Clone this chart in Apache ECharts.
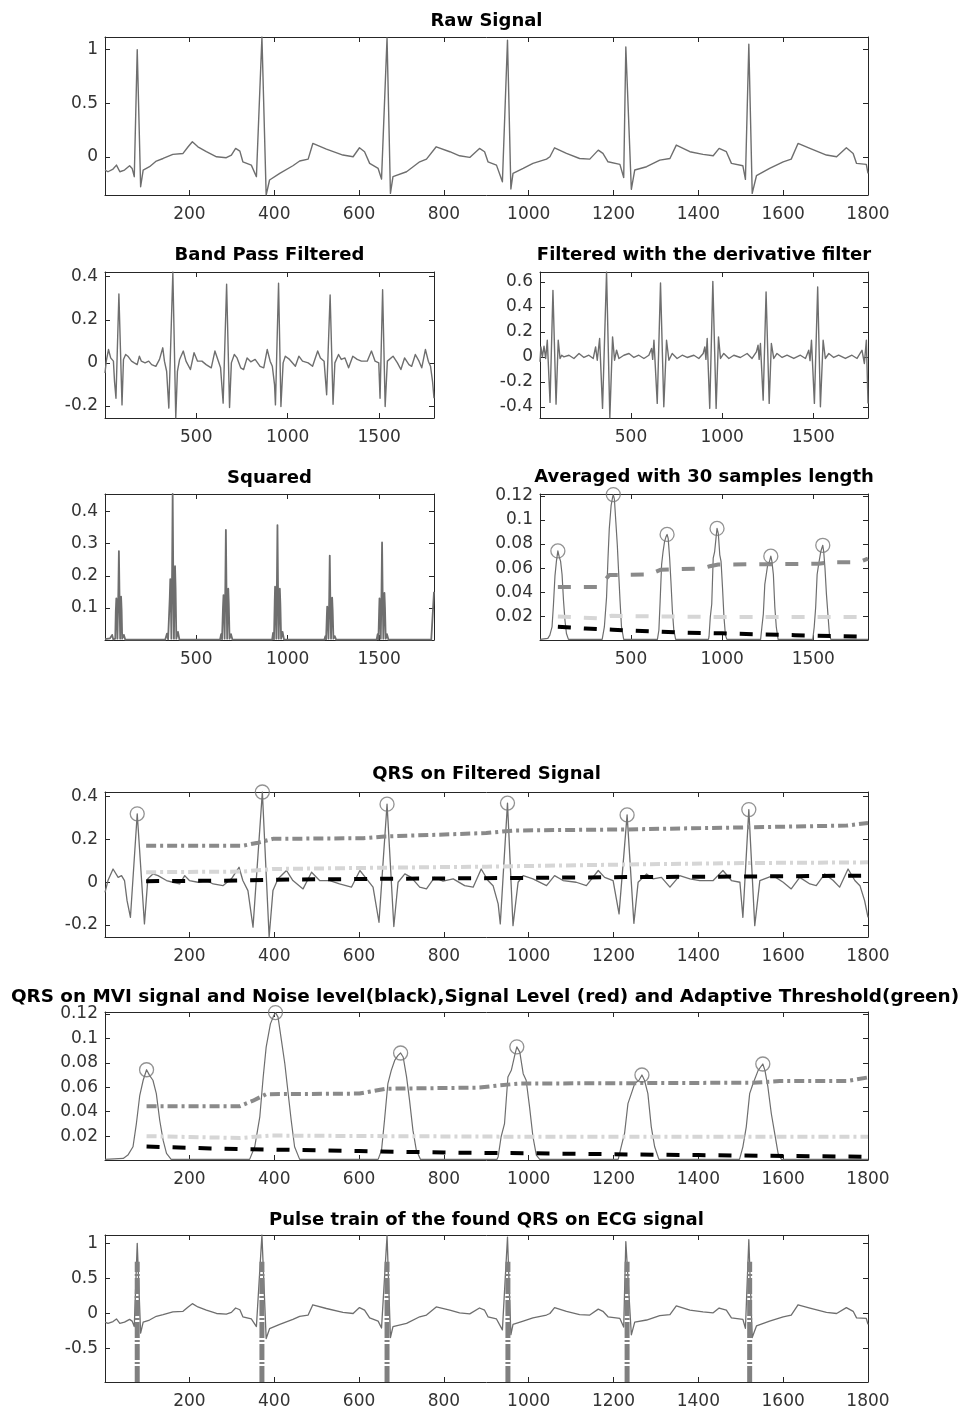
<!DOCTYPE html>
<html><head><meta charset="utf-8">
<script src="https://cdn.jsdelivr.net/npm/echarts@6/dist/echarts.min.js"></script>
<style>html,body{margin:0;padding:0;background:#fff}#c{width:964px;height:1414px}</style>
</head><body><div id="c"></div>
<script>
// ---------------- data ----------------
const tickWide = [200,400,600,800,1000,1200,1400,1600,1800];
const tickNarrow = [500,1000,1500];
const yTicksRaw = [0,0.5,1];
const yTicksBand = [-0.2,0,0.2,0.4];
const yTicksDeriv = [-0.4,-0.2,0,0.2,0.4,0.6];
const yTicksSq = [0.1,0.2,0.3,0.4];
const yTicksMvi = [0.02,0.04,0.06,0.08,0.1,0.12];
const yTicksPulse = [-0.5,0,0.5,1];
const sampleRange = [1,1800];
const rangeRaw = [-0.357,1.118];
const rangeBand = [-0.256,0.422];
const rangeDeriv = [-0.49,0.68];
const rangeSq = [0,0.455];
const rangeMvi = [0.0005,0.1215];
const rangePulse = [-0.976,1.118];

const rawEcg = [[1,-0.124],[8,-0.140],[20,-0.115],[28,-0.078],[36,-0.140],[47,-0.124],[59,-0.084],[65,-0.109],[70,-0.186],[77,1.000],[85,-0.280],[91,-0.124],[106,-0.093],[122,-0.040],[138,-0.016],[161,0.022],[185,0.031],[197,0.093],[207,0.140],[220,0.093],[240,0.047],[264,0.000],[287,-0.009],[299,0.016],[309,0.078],[319,0.053],[326,-0.047],[346,-0.078],[358,-0.186],[371,1.118],[381,-0.357],[389,-0.217],[413,-0.155],[444,-0.084],[460,-0.040],[480,-0.022],[491,0.124],[523,0.071],[562,0.016],[586,0.000],[601,0.084],[613,0.047],[625,-0.062],[645,-0.109],[653,-0.208],[666,1.110],[674,-0.342],[680,-0.186],[712,-0.140],[743,-0.047],[759,-0.022],[782,0.093],[814,0.047],[837,0.009],[861,-0.006],[884,0.078],[896,0.047],[904,-0.047],[924,-0.078],[938,-0.233],[950,1.087],[958,-0.301],[963,-0.155],[987,-0.109],[1010,-0.062],[1042,-0.022],[1050,0.000],[1061,0.084],[1089,0.031],[1120,-0.016],[1144,-0.022],[1164,0.062],[1175,0.031],[1187,-0.047],[1215,-0.071],[1224,-0.193],[1229,1.025],[1242,-0.304],[1250,-0.124],[1278,-0.093],[1309,-0.031],[1333,-0.016],[1348,0.109],[1380,0.047],[1411,0.022],[1435,0.009],[1449,0.078],[1466,0.047],[1478,-0.062],[1505,-0.084],[1511,-0.211],[1519,1.050],[1527,-0.342],[1537,-0.177],[1568,-0.109],[1600,-0.047],[1619,-0.022],[1635,0.124],[1663,0.078],[1702,0.016],[1726,0.000],[1749,0.084],[1765,0.031],[1773,-0.062],[1796,-0.071],[1800,-0.155]];

const bandPass = [[1,-0.047],[8,0.008],[20,0.062],[32,0.023],[40,0.031],[47,0.008],[53,-0.086],[61,-0.164],[77,0.32],[94,-0.195],[102,0.016],[114,0.039],[126,0.031],[146,0.008],[161,0],[177,-0.008],[189,0.031],[200,0.008],[220,0],[240,0.008],[256,-0.008],[279,-0.016],[299,0.016],[317,0.07],[326,0.008],[338,-0.039],[350,-0.21],[372,0.422],[388,-0.256],[397,-0.039],[409,0.016],[429,0.055],[444,0.008],[468,-0.031],[488,0.047],[507,0.008],[531,0.008],[554,-0.008],[582,-0.023],[602,0.055],[621,0.008],[633,-0.023],[647,-0.187],[666,0.365],[682,-0.207],[692,0],[708,0.039],[723,0.023],[743,-0.023],[759,-0.031],[778,0.023],[798,0.005],[822,0.016],[849,-0.016],[869,-0.023],[888,0.062],[904,0.008],[916,-0.016],[928,-0.101],[933,-0.195],[950,0.37],[963,-0.203],[975,0],[987,0.031],[1010,0.016],[1042,-0.016],[1061,0.031],[1081,0.008],[1112,0],[1136,-0.016],[1164,0.055],[1179,0.023],[1199,0.008],[1213,-0.148],[1232,0.315],[1248,-0.192],[1258,0],[1278,0.039],[1293,0.016],[1313,0.023],[1333,-0.023],[1356,0.031],[1380,0.016],[1403,0.008],[1435,0.008],[1458,0.055],[1478,0.008],[1498,0],[1505,-0.164],[1519,0.34],[1533,-0.203],[1545,0.008],[1576,0.031],[1600,0],[1619,-0.031],[1639,0.023],[1663,-0.008],[1678,-0.016],[1698,0.039],[1718,0.008],[1733,-0.023],[1753,0.062],[1769,0.008],[1781,-0.016],[1792,-0.086],[1800,-0.164]];

const derivative = [[1,-0.04],[6,0.08],[14,0],[23,0.085],[32,-0.013],[41,0.133],[56,-0.365],[72,0.533],[89,-0.379],[101,0.133],[111,-0.013],[120,0.013],[132,0],[160,0.013],[187,-0.013],[215,0.027],[242,-0.005],[269,0.013],[293,-0.013],[306,0.08],[315,-0.027],[328,0.147],[344,-0.413],[366,0.68],[384,-0.49],[399,0.16],[410,-0.027],[421,0.053],[434,-0.013],[461,0.013],[489,0.027],[516,-0.005],[543,0.013],[571,-0.013],[598,0.013],[613,0.067],[619,-0.02],[626,0.133],[644,-0.373],[662,0.592],[680,-0.4],[695,0.133],[708,-0.027],[726,0.027],[753,-0.013],[781,0.013],[808,-0.005],[845,0.013],[872,-0.013],[896,0.027],[905,0.08],[911,-0.02],[918,0.147],[932,-0.413],[949,0.605],[967,-0.413],[980,0.16],[991,-0.013],[1009,0.027],[1037,-0.013],[1064,0.013],[1100,-0.005],[1137,0.027],[1164,-0.013],[1188,0.04],[1197,0.093],[1203,-0.02],[1210,0.107],[1225,-0.347],[1241,0.52],[1258,-0.373],[1270,0.107],[1283,-0.013],[1301,0.027],[1329,-0.005],[1356,0.013],[1393,-0.013],[1429,0.013],[1457,-0.013],[1475,0.053],[1482,-0.03],[1490,0.133],[1506,-0.373],[1524,0.56],[1539,-0.4],[1554,0.133],[1566,-0.013],[1585,0.027],[1612,-0.005],[1639,0.013],[1676,-0.013],[1712,0.013],[1740,-0.013],[1767,0.053],[1780,-0.053],[1791,0.133],[1800,-0.373]];

const squared = [[1,0.003],[28,0.005],[40,0.016],[46,0.002],[57,0.004],[60,0.09],[63,0.130],[66,0.09],[69,0.004],[74,0.15],[77,0.277],[80,0.15],[84,0.004],[86,0.09],[89,0.135],[92,0.09],[95,0.004],[104,0.016],[112,0.001],[330,0.001],[340,0.02],[346,0.002],[352,0.004],[355,0.13],[358,0.19],[361,0.13],[364,0.004],[368,0.22],[371,0.455],[374,0.22],[378,0.004],[381,0.16],[384,0.23],[387,0.16],[391,0.004],[400,0.025],[408,0.001],[630,0.001],[636,0.018],[641,0.002],[644,0.004],[646,0.1],[649,0.14],[652,0.1],[655,0.004],[659,0.17],[662,0.343],[665,0.17],[669,0.004],[672,0.11],[675,0.16],[678,0.11],[682,0.004],[690,0.018],[698,0.001],[915,0.001],[920,0.022],[925,0.002],[927,0.004],[929,0.12],[931,0.166],[934,0.12],[938,0.004],[941,0.17],[944,0.358],[947,0.17],[951,0.004],[954,0.11],[957,0.16],[960,0.11],[964,0.004],[972,0.025],[980,0.001],[1200,0.001],[1206,0.012],[1210,0.002],[1212,0.004],[1214,0.075],[1216,0.104],[1219,0.075],[1223,0.004],[1227,0.13],[1230,0.263],[1233,0.13],[1237,0.004],[1240,0.09],[1243,0.132],[1246,0.09],[1250,0.004],[1257,0.012],[1265,0.001],[1486,0.001],[1492,0.018],[1496,0.002],[1498,0.004],[1500,0.09],[1502,0.13],[1505,0.09],[1509,0.004],[1513,0.15],[1516,0.304],[1519,0.15],[1523,0.004],[1526,0.1],[1529,0.147],[1532,0.1],[1536,0.004],[1543,0.018],[1551,0.001],[1785,0.001],[1792,0.005],[1800,0.15]];

const mvi = [[1,0.001],[44,0.0018],[55,0.0045],[67,0.0113],[75,0.0303],[83,0.0534],[91,0.0657],[99,0.0743],[106,0.0697],[114,0.0657],[122,0.0548],[130,0.033],[138,0.0167],[146,0.0059],[157,0.001],[342,0.001],[354,0.0113],[366,0.0358],[374,0.0684],[381,0.0928],[391,0.1118],[399,0.1186],[403,0.121],[409,0.1173],[417,0.0983],[425,0.0792],[432,0.0575],[440,0.033],[448,0.0113],[460,0.001],[645,0.001],[653,0.0086],[660,0.033],[668,0.063],[676,0.0738],[684,0.0819],[692,0.086],[698,0.088],[704,0.0847],[712,0.0684],[719,0.0494],[727,0.0249],[735,0.0086],[745,0.001],[925,0.001],[928,0.0032],[935,0.0195],[943,0.0303],[951,0.0684],[959,0.0738],[967,0.086],[972,0.093],[979,0.0887],[987,0.0711],[994,0.0657],[1002,0.0439],[1010,0.0195],[1018,0.0045],[1026,0.001],[1211,0.001],[1218,0.0113],[1226,0.0222],[1234,0.0466],[1242,0.0548],[1250,0.063],[1260,0.0657],[1267,0.070],[1273,0.0657],[1281,0.0548],[1289,0.0276],[1297,0.0113],[1307,0.001],[1497,0.001],[1505,0.0113],[1513,0.0276],[1521,0.0548],[1529,0.063],[1541,0.0738],[1552,0.079],[1557,0.0738],[1564,0.0602],[1572,0.0385],[1580,0.0222],[1588,0.0059],[1596,0.001],[1800,0.001]];

const qrsMvi = [[99,0.0743],[403,0.121],[698,0.088],[972,0.093],[1267,0.070],[1552,0.079]];
const qrsFiltered = [[77,0.32],[372,0.422],[666,0.365],[950,0.37],[1232,0.315],[1519,0.34]];
const pulseIdx = [77,371,666,951,1232,1521];
const pulseSpan = [-0.976,0.738];

const signalLevelMvi = [[99,0.0444],[318,0.0444],[350,0.049],[381,0.0543],[601,0.0548],[635,0.057],[664,0.0588],[884,0.0597],[932,0.0616],[979,0.063],[1529,0.0637],[1592,0.065],[1749,0.065],[1800,0.068]];
const thresholdMvi = [[99,0.0200],[320,0.0185],[390,0.0205],[660,0.0200],[1000,0.0195],[1800,0.0195]];
const noiseMvi = [[99,0.0115],[250,0.0100],[400,0.0090],[600,0.0078],[800,0.0066],[1000,0.0060],[1200,0.0052],[1400,0.0045],[1600,0.0038],[1800,0.0032]];
const signalLevelFilt = [[98,0.171],[326,0.171],[362,0.185],[397,0.203],[610,0.206],[660,0.214],[900,0.23],[965,0.242],[1230,0.247],[1520,0.257],[1750,0.265],[1800,0.277]];
const thresholdFilt = [[98,0.047],[326,0.05],[397,0.062],[660,0.068],[900,0.073],[1230,0.083],[1520,0.09],[1800,0.093]];
const noiseFilt = [[98,0.005],[326,0.008],[397,0.012],[660,0.016],[960,0.02],[1230,0.024],[1520,0.027],[1800,0.031]];

const titles = ['Raw Signal','Band Pass Filtered','Filtered with the derivative filter','Squared','Averaged with 30 samples length','QRS on Filtered Signal','QRS on MVI signal and Noise level(black),Signal Level (red) and Adaptive Threshold(green)','Pulse train of the found QRS on ECG signal'];

// ---------------- styling / layout ----------------
const AX = '#262626', LB = '#333333';
const SIG = '#6e6e6e', SLV = '#8a8a8a', THR = '#d6d6d6', NOI = '#000000', CIR = '#777777';
const FONT = 'DejaVu Sans';
const DASH = [13, 13], DASHDOT = [10, 4, 3, 4];

const panels = [
  {g:[105,37,763,158],  xt:tickWide,   yr:rangeRaw,   yt:yTicksRaw,   tc:[486.5,21],  fs:18},
  {g:[105,272,329,146], xt:tickNarrow, yr:rangeBand,  yt:yTicksBand,  tc:[269.5,255.5], fs:18},
  {g:[540,272,328,146], xt:tickNarrow, yr:rangeDeriv, yt:yTicksDeriv, tc:[704,255],   fs:18},
  {g:[105,494,329,146], xt:tickNarrow, yr:rangeSq,    yt:yTicksSq,    tc:[269.5,478], fs:18},
  {g:[540,494,328,146], xt:tickNarrow, yr:rangeMvi,   yt:yTicksMvi,   tc:[704,477],   fs:18},
  {g:[105,792,763,145], xt:tickWide,   yr:rangeBand,  yt:yTicksBand,  tc:[486.5,774], fs:18},
  {g:[105,1012,763,148],xt:tickWide,   yr:rangeMvi,   yt:yTicksMvi,   tc:[485,997],   fs:18.4},
  {g:[105,1235,763,147],xt:tickWide,   yr:rangePulse, yt:yTicksPulse, tc:[486.5,1220],fs:18}
];

const fmt = v => String(+(+v).toFixed(4));
const grid = [], xAxis = [], yAxis = [], graphic = [], series = [];

panels.forEach((p, i) => {
  grid.push({left:p.g[0], top:p.g[1], width:p.g[2], height:p.g[3], containLabel:false});
  const line = {show:true, onZero:false, lineStyle:{color:AX, width:1}};
  const lab = {color:LB, fontFamily:FONT, fontSize:17, formatter:fmt};
  ['bottom','top'].forEach((pos, k) => xAxis.push({
    type:'value', gridIndex:i, position:pos, min:sampleRange[0], max:sampleRange[1],
    axisLine:line, splitLine:{show:false},
    axisTick:{show:true, inside:true, length:5, customValues:p.xt, lineStyle:{color:AX}},
    axisLabel:Object.assign({show:k===0, margin:11, customValues:p.xt}, lab)
  }));
  ['left','right'].forEach((pos, k) => yAxis.push({
    type:'value', gridIndex:i, position:pos, min:p.yr[0], max:p.yr[1],
    axisLine:line, splitLine:{show:false},
    axisTick:{show:true, inside:true, length:5, customValues:p.yt, lineStyle:{color:AX}},
    axisLabel:Object.assign({show:k===0, margin:7, customValues:p.yt}, lab)
  }));
  graphic.push({type:'text', x:p.tc[0], y:p.tc[1], z:100,
    style:{text:titles[i], fill:'#000', font:'bold ' + p.fs + 'px "DejaVu Sans"', align:'center', verticalAlign:'middle', textAlign:'center', textVerticalAlign:'middle'}});
});

function curve(i, data, color, width, type, z) {
  series.push({type:'line', xAxisIndex:2*i, yAxisIndex:2*i, data:data, showSymbol:false, symbol:'none',
    animation:false, silent:true, z:z||2, clip:true,
    lineStyle:{color:color, width:width, type:type||'solid', cap:'butt', join:'round'}});
}
function circles(i, data) {
  series.push({type:'scatter', xAxisIndex:2*i, yAxisIndex:2*i, data:data, symbol:'circle', symbolSize:14,
    animation:false, silent:true, clip:false, z:5,
    itemStyle:{color:'rgba(0,0,0,0)', borderColor:CIR, borderWidth:1.3}});
}

curve(0, rawEcg, SIG, 1.4);
curve(1, bandPass, SIG, 1.4);
curve(2, derivative, SIG, 1.4);
curve(3, squared, SIG, 1.8);
curve(4, mvi, SIG, 1.2);
circles(4, qrsMvi);
curve(4, noiseMvi, NOI, 4, DASH, 4);
curve(4, signalLevelMvi, SLV, 4, DASH, 4);
curve(4, thresholdMvi, THR, 4, DASH, 4);
curve(5, bandPass, SIG, 1.3);
circles(5, qrsFiltered);
curve(5, noiseFilt, NOI, 4, DASH, 4);
curve(5, signalLevelFilt, SLV, 4, DASHDOT, 4);
curve(5, thresholdFilt, THR, 4, DASHDOT, 4);
curve(6, mvi, SIG, 1.2);
circles(6, qrsMvi);
curve(6, noiseMvi, NOI, 4, DASH, 4);
curve(6, signalLevelMvi, SLV, 4, DASHDOT, 4);
curve(6, thresholdMvi, THR, 4, DASHDOT, 4);
curve(7, rawEcg, SIG, 1.3);
pulseIdx.forEach(t => curve(7, [[t, pulseSpan[0]], [t, pulseSpan[1]]], '#808080', 5, [16, 2, 2, 2], 4));

const chart = echarts.init(document.getElementById('c'), null, {renderer:'canvas', width:964, height:1414});
chart.setOption({backgroundColor:'#ffffff', animation:false, grid, xAxis, yAxis, graphic, series});
</script></body></html>
